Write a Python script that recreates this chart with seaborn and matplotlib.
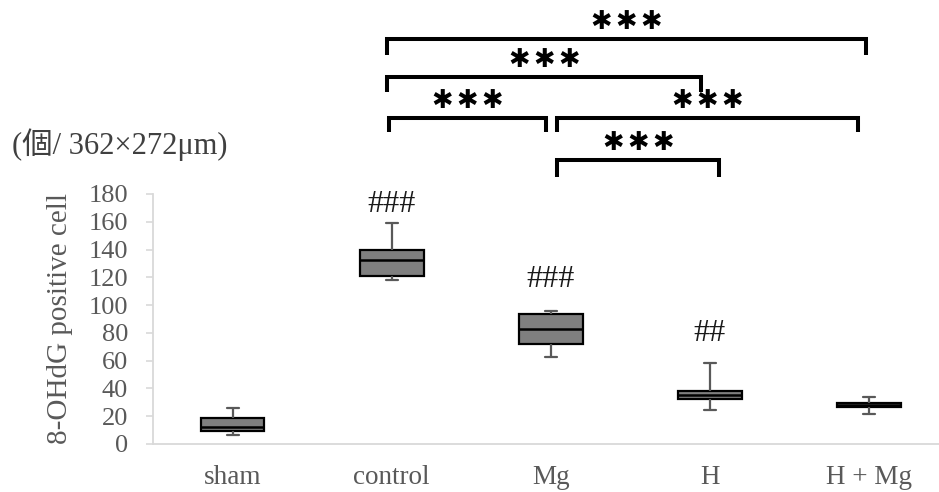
import matplotlib
matplotlib.use("Agg")
import matplotlib.pyplot as plt
import pandas as pd
import seaborn as sns

# Groups and five-number summaries (min, Q1, median, Q3, max) of 8-OHdG positive cells
groups = ["sham", "control", "Mg", "H", "H + Mg"]
sham = [6.5, 9.6, 12.5, 18.7, 26.1]
control = [118.0, 121.2, 132.2, 139.4, 158.9]
mg = [62.6, 72.2, 83.0, 93.4, 95.8]
h = [24.5, 32.2, 35.0, 37.9, 58.3]
h_mg = [21.6, 27.0, 28.3, 29.5, 33.6]

# Marks vs. sham shown above the boxes
hash_labels = ["", "###", "###", "##", ""]
hash_y = [None, 172.8, 118.4, 79.5, None]

# Pairwise comparisons (group indices) and their significance
comparisons = [(1, 4), (1, 3), (1, 2), (2, 4), (2, 3)]
comparison_labels = ["***", "***", "***", "***", "***"]

y_ticks = [0, 20, 40, 60, 80, 100, 120, 140, 160, 180]
y_label = "8-OHdG positive cell"
unit_label = "(個/ 362×272μm)"

# ---- layout for the comparison brackets: bar height, drop, end nudges ----
bracket_y = [291.4, 263.9, 234.5, 234.5, 204.5]
bracket_drop = [11.4, 10.3, 9.9, 9.9, 12.3]
bracket_dx = [(-0.03, -0.02), (-0.03, -0.055), (-0.016, -0.031),
              (0.04, -0.07), (0.04, 0.06)]

values = [sham, control, mg, h, h_mg]
df = pd.DataFrame(
    [(g, v) for g, vals in zip(groups, values) for v in vals],
    columns=["group", "count"],
)

sns.set_theme(style="white")
serif = ["Liberation Serif", "Noto Sans CJK JP"]
plt.rcParams["font.family"] = serif

fig = plt.figure(figsize=(9.39, 4.92), dpi=100)
W, H = 939, 492
ax = fig.add_axes([153 / W, 48 / H, 795.6 / W, 250 / H])

grid_grey = "#d9d9d9"
text_grey = "#595959"

sns.boxplot(
    data=df, x="group", y="count", order=groups, ax=ax,
    whis=(0, 100), width=0.40, color="#7f7f7f", saturation=1,
    linecolor="black", linewidth=1.5,
    boxprops=dict(facecolor="#7f7f7f", edgecolor="black", linewidth=1.6),
    medianprops=dict(color="black", linewidth=1.8),
    whiskerprops=dict(color=text_grey, linewidth=1.6),
    capprops=dict(color=text_grey, linewidth=1.6),
    capwidths=0.075,
)

ax.set_xlim(-0.5, 4.5)
ax.set_ylim(0, 180)
ax.set_yticks(y_ticks)
ax.set_yticklabels([str(t) for t in y_ticks])
ax.set_xlabel("")
ax.set_ylabel(y_label, fontsize=21, color=text_grey, family=serif)
ax.yaxis.set_label_coords(-0.100, 0.5)

for side in ["top", "right"]:
    ax.spines[side].set_visible(False)
for side in ["left", "bottom"]:
    ax.spines[side].set_color(grid_grey)
    ax.spines[side].set_linewidth(1.3)

ax.tick_params(axis="y", which="major", left=True, length=5, width=1.2,
               color=grid_grey, labelsize=19, labelcolor=text_grey, pad=13)
ax.tick_params(axis="x", which="major", bottom=False, length=0,
               labelsize=19.5, labelcolor=text_grey, pad=15)

# "#" marks above boxes
for i, (lab, yv) in enumerate(zip(hash_labels, hash_y)):
    if lab:
        ax.text(i, yv, lab, ha="center", va="center", fontsize=23,
                color="#1a1a1a", family=serif)

# Comparison brackets with significance stars (one heavy asterisk per "*")
for (a, b), lab, yb, drop, (dl, dr) in zip(comparisons, comparison_labels,
                                            bracket_y, bracket_drop, bracket_dx):
    x1, x2 = a + dl, b + dr
    ax.plot([x1, x1, x2, x2], [yb - drop, yb, yb, yb - drop], color="black",
            linewidth=2.9, solid_joinstyle="miter", solid_capstyle="butt",
            clip_on=False)
    n = len(lab)
    for k in range(n):
        ax.annotate("✱", xy=((x1 + x2) / 2, yb + 12.5),
                    xytext=((k - (n - 1) / 2) * 18, 0), textcoords="offset points",
                    ha="center", va="center", fontsize=18.5, color="black",
                    family=["DejaVu Sans"], annotation_clip=False)

fig.text(11.7 / W, 1 - 145 / H, unit_label, ha="left", va="center",
         fontsize=22, color="#404040", family=serif)

fig.savefig("out.png", dpi=100, facecolor="white")
